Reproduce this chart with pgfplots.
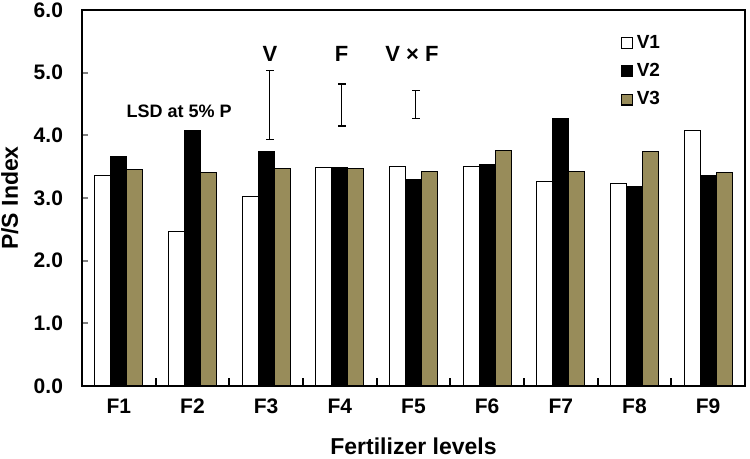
\documentclass[border=0pt]{standalone}
\usepackage{pgfplots}
\pgfplotsset{compat=1.18}
\usepackage{fontspec}
\setmainfont{Liberation Sans}
\definecolor{olivebar}{RGB}{152,140,90}

\begin{document}
\begin{tikzpicture}
\begin{axis}[
    name=ax,
    scale only axis,
    width=331.5pt, height=188pt,
    xmin=0.5, xmax=9.5,
    ymin=0, ymax=6,
    axis line style={line width=1.1pt},
    xtick={1,...,9},
    xticklabels={F1,F2,F3,F4,F5,F6,F7,F8,F9},
    minor xtick={1.5,2.5,...,8.5},
    ytick={0,1,...,6},
    /pgf/number format/fixed,
    /pgf/number format/fixed zerofill,
    /pgf/number format/precision=1,
    /pgf/number format/assume math mode=true,
    tick align=inside,
    x tick style={draw=none},
    minor x tick style={draw=black, line width=1.1pt},
    minor tick length=4pt,
    y tick style={line width=1.1pt},
    major tick length=3pt,
    xtick pos=bottom, ytick pos=left,
    tick label style={font=\fontsize{10.5}{12}\selectfont\bfseries},
    xticklabel style={yshift=-3pt},
    yticklabel style={xshift=-6pt},
    xlabel={Fertilizer levels},
    ylabel={P/S Index},
    label style={font=\fontsize{11.5}{13}\selectfont\bfseries},
    xlabel style={at={(axis description cs:0.5,0)}, anchor=center, yshift=-30pt},
    ylabel style={at={(axis description cs:-0.109,0.50)}, anchor=center},
    legend style={draw=none, fill=none, at={(0.812,0.945)}, anchor=north west,
        font=\fontsize{9.5}{10}\selectfont\bfseries, row sep=2pt,
        inner sep=0pt},
    legend cell align=left,
    legend image code/.code={\draw[#1, line width=0.6pt] (0pt,-2.7pt) rectangle (5.4pt,2.7pt);},
    lsd/.style={black, line width=0.6pt, mark=-, mark size=2pt, forget plot},
]
\addplot[ybar, bar width=0.217, bar shift=-0.217, fill=white, draw=black, line width=0.5pt]
    coordinates {(1,3.36) (2,2.46) (3,3.02) (4,3.49) (5,3.50) (6,3.50) (7,3.26) (8,3.23) (9,4.07)};
\addplot[ybar, bar width=0.217, bar shift=0, fill=black, draw=black, line width=0.5pt]
    coordinates {(1,3.67) (2,4.07) (3,3.74) (4,3.49) (5,3.30) (6,3.53) (7,4.27) (8,3.19) (9,3.36)};
\addplot[ybar, bar width=0.217, bar shift=0.217, fill=olivebar, draw=black, line width=0.5pt]
    coordinates {(1,3.45) (2,3.40) (3,3.47) (4,3.47) (5,3.42) (6,3.76) (7,3.42) (8,3.74) (9,3.40)};
\legend{V1,V2,V3}

% LSD at 5% (V, F, V x F)
\addplot[lsd] coordinates {(3.05,3.93) (3.05,5.04)};
\addplot[lsd] coordinates {(4.025,4.15) (4.025,4.82)};
\addplot[lsd] coordinates {(5.03,4.27) (5.03,4.71)};

\node[font=\fontsize{11}{12}\selectfont\bfseries] at (axis cs:3.05,5.30) {V};
\node[font=\fontsize{11}{12}\selectfont\bfseries] at (axis cs:4.025,5.30) {F};
\node[font=\fontsize{11}{12}\selectfont\bfseries] at (axis cs:4.98,5.30) {V × F};
\node[font=\fontsize{9}{10}\selectfont\bfseries] at (axis cs:1.82,4.38) {LSD at 5\% P};
\end{axis}
\pgfresetboundingbox
\path[use as bounding box] ([shift={(-41pt,-36.5pt)}]ax.south west) rectangle ([shift={(2.5pt,5pt)}]ax.north east);
\end{tikzpicture}
\end{document}
